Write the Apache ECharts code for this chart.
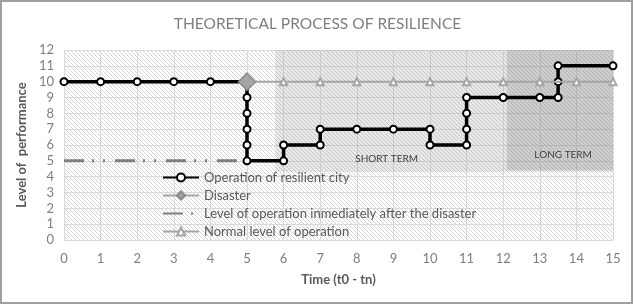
<!DOCTYPE html>
<html>
<head>
<meta charset="utf-8">
<script src="https://cdn.jsdelivr.net/npm/echarts@6/dist/echarts.min.js"></script>
<style>
  html, body { margin: 0; padding: 0; background: #fff; }
  #chart { width: 635px; height: 305px; }
</style>
</head>
<body>
<div id="chart"></div>
<script>
// resilient city: step path (time, level)
const resilientX = [0, 1, 2, 3, 4, 5, 5, 5, 5, 5, 5, 6, 6, 7, 7, 8, 9, 10, 10, 11, 11, 11, 11, 12, 13, 13.5, 13.5, 13.5, 15];
const resilientY = [10, 10, 10, 10, 10, 10, 9, 8, 7, 6, 5, 5, 6, 6, 7, 7, 7, 7, 6, 6, 7, 8, 9, 9, 9, 9, 10, 11, 11];
const disasterX = [5];
const disasterY = [10];
const afterX = [0, 5];
const afterY = [5, 5];
const normalX = [5, 6, 7, 8, 9, 10, 11, 12, 13, 14, 15];
const normalY = [10, 10, 10, 10, 10, 10, 10, 10, 10, 10, 10];
// shaded periods: [xFrom, xTo, yFrom, yTo]
const shortTerm = [5.77, 15, 4.3, 12.1];
const longTerm = [12.1, 15, 4.4, 12];

const pair = (xs, ys) => xs.map((x, i) => [x, ys[i]]);

// diagonal hatch tile for the plot background
const tile = document.createElement("canvas");
tile.width = 4;
tile.height = 4;
const ctx = tile.getContext("2d");
ctx.fillStyle = "#ffffff";
ctx.fillRect(0, 0, 4, 4);
ctx.strokeStyle = "#d6d6d6";
ctx.lineWidth = 1;
ctx.beginPath();
ctx.moveTo(0, 0); ctx.lineTo(4, 4);
ctx.moveTo(-1, 3); ctx.lineTo(1, 5);
ctx.moveTo(3, -1); ctx.lineTo(5, 1);
ctx.stroke();

const chart = echarts.init(document.getElementById("chart"));
const font = "Lato";

chart.setOption({
  animation: false,
  textStyle: { fontFamily: font },
  title: {
    text: "THEORETICAL PROCESS OF RESILIENCE",
    left: "center",
    top: 11,
    textStyle: { fontFamily: font, fontWeight: "normal", fontSize: 15.5, color: "#7f7f7f" },
  },
  graphic: [{
    type: "rect",
    shape: { x: 1, y: 1, width: 631, height: 302 },
    style: { fill: "none", stroke: "#a0a0a0", lineWidth: 2 },
    silent: true,
  }],
  grid: {
    left: 64, right: 22, top: 50, bottom: 65,
    show: true,
    borderWidth: 0,
    backgroundColor: { image: tile, repeat: "repeat" },
  },
  legend: {
    orient: "vertical",
    left: 157,
    top: 166,
    itemWidth: 36,
    itemHeight: 10,
    itemGap: 5,
    textStyle: { fontFamily: font, fontSize: 13, color: "#595959" },
    data: [
      "Operation of resilient city",
      "Disaster",
      { name: "Level of operation inmediately after the disaster", itemStyle: { color: "transparent", borderColor: "transparent" } },
      "Normal level of operation",
    ],
  },
  xAxis: {
    type: "value",
    min: 0, max: 15, interval: 1,
    name: "Time (t0 - tn)",
    nameLocation: "middle",
    nameGap: 33,
    nameTextStyle: { fontFamily: font, fontWeight: "bold", fontSize: 13, color: "#595959" },
    axisLine: { show: false },
    axisTick: { show: false },
    axisLabel: { fontSize: 13, color: "#7f7f7f", margin: 12 },
    splitLine: { lineStyle: { color: "#d9d9d9", width: 1 } },
  },
  yAxis: {
    type: "value",
    min: 0, max: 12, interval: 1,
    name: "Level of  performance",
    nameLocation: "middle",
    nameGap: 27,
    nameTextStyle: { fontFamily: font, fontWeight: "bold", fontSize: 13, color: "#595959" },
    axisLine: { show: false },
    axisTick: { show: false },
    axisLabel: { fontSize: 13, color: "#7f7f7f", margin: 10 },
    splitLine: { lineStyle: { color: "#d9d9d9", width: 1 } },
  },
  series: [
    {
      name: "Operation of resilient city",
      type: "line",
      z: 3,
      data: pair(resilientX, resilientY),
      symbol: "circle",
      symbolSize: 7,
      lineStyle: { color: "#000", width: 3.5 },
      itemStyle: { color: "#fff", borderColor: "#000", borderWidth: 2 },
      markArea: {
        silent: true,
        data: [
          [{
            coord: [shortTerm[0], shortTerm[3]],
            itemStyle: { color: "rgba(150,150,150,0.22)" },
            label: { show: true, position: ["33%", "89%"], align: "center", verticalAlign: "middle", fontFamily: font, fontSize: 10, color: "#404040" },
            name: "SHORT TERM",
          }, { coord: [shortTerm[1], shortTerm[2]] }],
          [{
            coord: [longTerm[0], longTerm[3]],
            itemStyle: { color: "rgba(120,120,120,0.24)" },
            label: { show: true, position: ["53%", "87%"], align: "center", verticalAlign: "middle", fontFamily: font, fontSize: 10, color: "#404040" },
            name: "LONG TERM",
          }, { coord: [longTerm[1], longTerm[2]] }],
        ],
      },
    },
    {
      name: "Disaster",
      type: "line",
      z: 5,
      data: pair(disasterX, disasterY),
      symbol: "diamond",
      symbolSize: 17,
      lineStyle: { color: "#a5a5a5", width: 5 },
      itemStyle: { color: "#a5a5a5", borderColor: "#8a8a8a", borderWidth: 1.5 },
    },
    {
      name: "Level of operation inmediately after the disaster",
      type: "line",
      z: 2,
      data: pair(afterX, afterY),
      showSymbol: false,
      symbol: "none",
      lineStyle: { color: "#7f7f7f", width: 3, type: [20, 8, 2, 9, 2, 10] },
      itemStyle: { color: "#7f7f7f" },
    },
    {
      name: "Normal level of operation",
      type: "line",
      z: 4,
      data: pair(normalX, normalY),
      symbol: "emptyTriangle",
      symbolSize: 7,
      lineStyle: { color: "#a5a5a5", width: 2 },
      itemStyle: { color: "#a5a5a5", borderWidth: 1.5 },
    },
  ],
});
</script>
</body>
</html>
